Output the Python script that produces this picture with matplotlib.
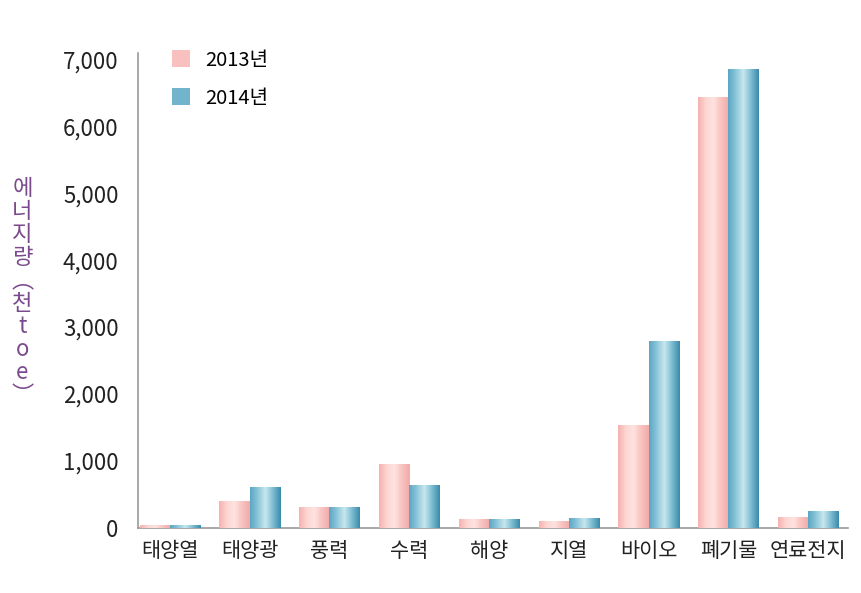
import numpy as np
import matplotlib
matplotlib.use('Agg')
import matplotlib.pyplot as plt
from matplotlib.colors import LinearSegmentedColormap

plt.rcParams['font.family'] = ['Noto Sans CJK KR', 'DejaVu Sans']

categories = ['태양열', '태양광', '풍력', '수력', '해양', '지열', '바이오', '폐기물', '연료전지']
v2013 = [40, 405, 305, 955, 130, 105, 1530, 6440, 165]
v2014 = [40, 605, 305, 645, 130, 145, 2795, 6860, 245]
series_labels = ['2013년', '2014년']
yticks = [0, 1000, 2000, 3000, 4000, 5000, 6000, 7000]

pink = LinearSegmentedColormap.from_list('pink', ['#f6b1b0', '#fcd6d3', '#fde3e0', '#f8c3c1', '#f3aaa9'])
teal = LinearSegmentedColormap.from_list('teal', ['#5ba6c4', '#8cc6da', '#c8e7ef', '#7dbcd2', '#3b8bab'])

fig = plt.figure(figsize=(8.62, 5.93), dpi=100)
ax = fig.add_axes([0.160, 0.110, 0.824, 0.801])

x = np.arange(len(categories))
w = 0.38
grad = np.linspace(0, 1, 64).reshape(1, -1)

for vals, off, cmap, lab in [(v2013, -w / 2, pink, series_labels[0]),
                             (v2014, w / 2, teal, series_labels[1])]:
    bars = ax.bar(x + off, vals, w, color=cmap(0.5), label=lab, zorder=2)
    for b in bars:
        im = ax.imshow(grad, cmap=cmap, aspect='auto', zorder=3,
                       extent=[b.get_x(), b.get_x() + b.get_width(), 0, b.get_height()])
        im.set_clip_path(b)

ax.set_xlim(-0.4, len(categories) - 0.5)
ax.set_ylim(0, 7100)
ax.set_yticks(yticks)
ax.set_yticklabels([f'{t:,}' for t in yticks], fontsize=16, color='#222222')
ax.set_xticks(x)
ax.set_xticklabels(categories, fontsize=15, color='#222222')
ax.tick_params(axis='y', length=0, pad=14)
ax.tick_params(axis='x', length=0, pad=9)
for s in ['top', 'right']:
    ax.spines[s].set_visible(False)
for s in ['left', 'bottom']:
    ax.spines[s].set_color('#9a9a9a')
    ax.spines[s].set_linewidth(1.2)

leg = ax.legend(frameon=False, loc='upper left', bbox_to_anchor=(0.022, 1.045),
                fontsize=14.5, handlelength=0.9, handleheight=0.9,
                labelspacing=0.85, handletextpad=0.75)
for h, c in zip(leg.legend_handles, ['#f8c0bf', '#72b4cc']):
    h.set_facecolor(c)

fig.text(0.026, 0.507, '에\n너\n지\n량\n︵\n천\nt\no\ne\n︶', color='#7a4a8c',
         fontsize=16, ha='center', va='center', linespacing=1.0)

fig.savefig('out.png', dpi=100)
